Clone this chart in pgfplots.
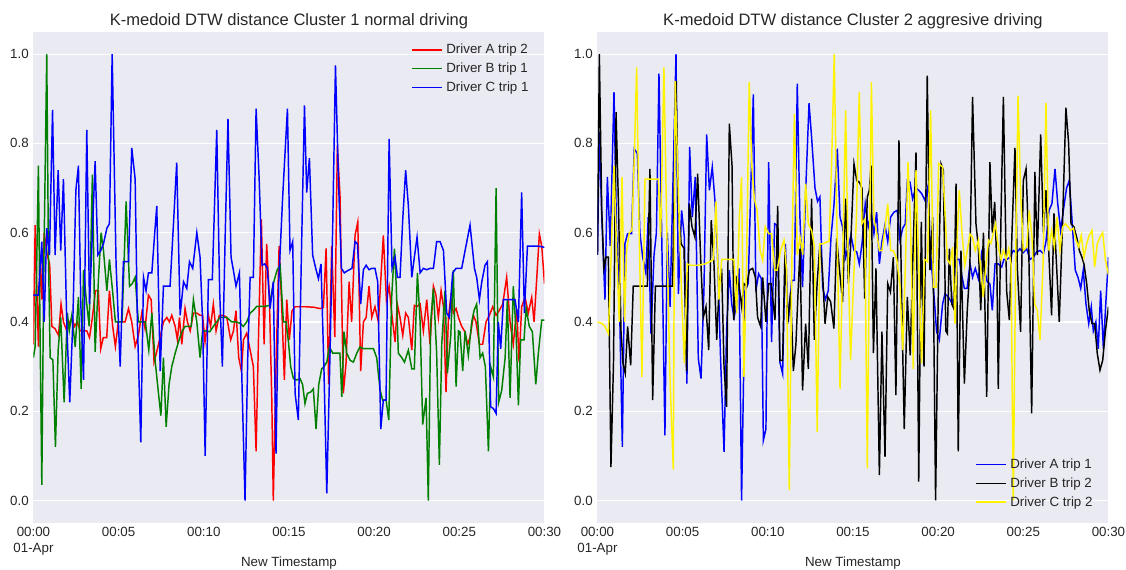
\documentclass[border=0pt]{standalone}
\usepackage{fontspec}
\setmainfont{Liberation Sans}
\usepackage{pgfplots}
\pgfplotsset{compat=1.18}
\definecolor{sbbg}{RGB}{234,234,242}
\definecolor{sbtext}{RGB}{38,38,38}
\definecolor{mplgreen}{RGB}{0,128,0}

% seaborn darkgrid look
\pgfplotsset{
  sbstyle/.style={
    scale only axis, width=383.25pt, height=368.25pt,
    xmin=0, xmax=30, ymin=-0.05, ymax=1.05,
    axis background/.style={fill=sbbg},
    axis line style={draw=none},
    tick style={draw=none},
    ymajorgrids, grid style={white, line width=0.9pt},
    xtick={0,5,10,15,20,25,30},
    xticklabels={{00:00\\01-Apr},00:05,00:10,00:15,00:20,00:25,00:30},
    ytick={0,0.2,0.4,0.6,0.8,1},
    yticklabels={0.0,0.2,0.4,0.6,0.8,1.0},
    ticklabel style={font=\fontsize{10}{11.5}\selectfont, text=sbtext},
    xticklabel style={align=center},
    xlabel={New Timestamp},
    xlabel style={at={(axis description cs:0.5,0)}, anchor=north, yshift=-22pt,
      font=\fontsize{10}{12}\selectfont, text=sbtext},
    title style={font=\fontsize{12.4}{14}\selectfont, text=sbtext,
      at={(axis description cs:0.5,1)}, anchor=south, yshift=-7.5pt},
    legend style={draw=none, fill=none, font=\fontsize{10}{12}\selectfont,
      text=sbtext, row sep=2.3pt, nodes={inner ysep=1.5pt, inner xsep=3pt}},
    legend cell align=left,
    legend image code/.code={\draw[##1, line width=1.1pt] (0pt,0pt) -- (22pt,0pt);},
    every axis plot/.append style={line width=1.1pt, mark=none},
  }
}

\begin{document}
\begin{tikzpicture}
\useasboundingbox (0,0) rectangle (844.5pt,426.75pt);

\begin{axis}[sbstyle, at={(25.1pt,34.65pt)}, anchor=south west,
  title={K-medoid DTW distance Cluster 1 normal driving},
  legend style={at={(0.985,0.985)}, anchor=north east}]
\addplot[red] coordinates {
(0,0.35)(0.1,0.617)(0.29,0.345)(0.4,0.55)(0.5,0.45)(0.63,0.60)(0.8,0.55)(0.95,0.53)
(1.08,0.39)(1.27,0.385)(1.47,0.37)(1.62,0.44)(1.76,0.40)(1.96,0.38)(2.13,0.40)(2.27,0.41)
(2.41,0.39)(2.57,0.40)(2.74,0.38)(2.94,0.38)(3.13,0.38)(3.29,0.365)(3.46,0.41)(3.64,0.47)
(3.81,0.47)(3.95,0.34)(4.1,0.365)(4.3,0.365)(4.46,0.47)(4.65,0.39)(4.81,0.345)(4.98,0.40)
(5.18,0.40)(5.38,0.40)(5.58,0.43)(5.77,0.40)(5.97,0.345)(6.16,0.37)(6.36,0.42)(6.55,0.385)
(6.75,0.46)(6.91,0.45)(7.08,0.31)(7.28,0.34)(7.44,0.366)(7.63,0.40)(7.83,0.41)(7.98,0.40)
(8.12,0.415)(8.32,0.39)(8.45,0.36)(8.57,0.41)(8.71,0.35)(8.9,0.43)(9.04,0.40)(9.2,0.38)
(9.39,0.42)(9.59,0.42)(9.78,0.415)(9.93,0.415)(10.07,0.355)(10.27,0.415)(10.4,0.39)(10.56,0.44)
(10.72,0.38)(10.91,0.415)(11.15,0.415)(11.35,0.41)(11.58,0.36)(11.74,0.38)(11.89,0.425)(12.05,0.32)
(12.21,0.29)(12.33,0.36)(12.52,0.375)(12.72,0.337)(12.91,0.30)(13.07,0.11)(13.22,0.38)(13.38,0.63)
(13.54,0.35)(13.69,0.575)(13.85,0.455)(13.99,0.23)(14.08,0.0)(14.24,0.30)(14.42,0.57)(14.58,0.43)
(14.73,0.27)(14.87,0.45)(15.02,0.36)(15.18,0.425)(15.36,0.434)(15.65,0.434)(16.0,0.434)(16.43,0.433)
(16.83,0.43)(17.02,0.432)(17.18,0.565)(17.33,0.26)(17.51,0.57)(17.69,0.366)(17.84,0.795)(18.0,0.68)
(18.19,0.24)(18.35,0.307)(18.53,0.49)(18.68,0.40)(18.88,0.594)(19.04,0.624)(19.21,0.29)(19.37,0.40)
(19.53,0.41)(19.7,0.48)(19.86,0.41)(20.05,0.434)(20.25,0.40)(20.54,0.594)(20.72,0.45)(20.88,0.48)
(21.03,0.42)(21.23,0.355)(21.36,0.44)(21.52,0.41)(21.68,0.37)(21.85,0.42)(22.01,0.41)(22.21,0.337)
(22.36,0.437)(22.5,0.434)(22.7,0.44)(22.89,0.38)(23.09,0.45)(23.28,0.35)(23.48,0.48)(23.63,0.46)
(23.77,0.41)(23.93,0.47)(24.07,0.434)(24.22,0.243)(24.36,0.41)(24.5,0.455)(24.65,0.42)(24.81,0.43)
(24.95,0.41)(25.14,0.39)(25.3,0.38)(25.49,0.35)(25.63,0.366)(25.83,0.415)(25.98,0.40)(26.18,0.35)
(26.37,0.35)(26.57,0.40)(26.77,0.415)(26.96,0.434)(27.16,0.415)(27.35,0.426)(27.55,0.44)(27.78,0.50)
(27.98,0.40)(28.17,0.35)(28.37,0.43)(28.51,0.31)(28.66,0.434)(28.86,0.455)(29.05,0.42)(29.25,0.455)
(29.39,0.40)(29.55,0.50)(29.7,0.597)(29.84,0.57)(30,0.486)
};
\addlegendentry{Driver A trip 2}
\addplot[mplgreen] coordinates {
(0,0.32)(0.1,0.345)(0.2,0.55)(0.29,0.75)(0.38,0.40)(0.49,0.035)(0.6,0.50)(0.78,1.0)
(0.88,0.55)(0.98,0.32)(1.14,0.315)(1.29,0.12)(1.45,0.337)(1.6,0.41)(1.8,0.22)(1.99,0.42)
(2.1,0.38)(2.25,0.415)(2.45,0.344)(2.64,0.456)(2.8,0.25)(2.94,0.516)(3.1,0.45)(3.27,0.39)
(3.46,0.73)(3.62,0.333)(3.82,0.50)(3.97,0.60)(4.11,0.56)(4.31,0.47)(4.46,0.54)(4.65,0.467)
(4.81,0.40)(5.0,0.40)(5.2,0.40)(5.44,0.67)(5.64,0.48)(5.8,0.486)(5.97,0.50)(6.16,0.40)
(6.36,0.40)(6.57,0.40)(6.77,0.337)(6.95,0.42)(7.14,0.314)(7.32,0.247)(7.48,0.19)(7.63,0.32)
(7.79,0.165)(7.96,0.26)(8.12,0.30)(8.32,0.33)(8.51,0.355)(8.71,0.378)(8.9,0.39)(9.1,0.39)
(9.26,0.39)(9.39,0.45)(9.59,0.40)(9.78,0.32)(9.93,0.38)(10.14,0.38)(10.35,0.378)(10.56,0.39)
(10.76,0.40)(10.95,0.41)(11.15,0.41)(11.35,0.41)(11.64,0.40)(11.9,0.40)(12.13,0.397)(12.32,0.39)
(12.52,0.40)(12.72,0.42)(12.91,0.426)(13.11,0.435)(13.3,0.435)(13.6,0.435)(13.85,0.437)(14.08,0.486)
(14.3,0.516)(14.48,0.527)(14.67,0.40)(14.83,0.40)(14.97,0.355)(15.1,0.30)(15.26,0.273)(15.45,0.27)
(15.65,0.273)(15.8,0.26)(15.94,0.217)(16.08,0.24)(16.28,0.243)(16.43,0.25)(16.59,0.16)(16.75,0.26)
(16.92,0.295)(17.06,0.30)(17.22,0.31)(17.37,0.344)(17.57,0.33)(17.8,0.33)(17.99,0.33)(18.1,0.232)
(18.23,0.378)(18.39,0.33)(18.59,0.314)(18.78,0.31)(18.98,0.33)(19.17,0.344)(19.37,0.34)(19.56,0.34)
(19.76,0.34)(19.96,0.34)(20.15,0.32)(20.35,0.247)(20.5,0.225)(20.7,0.225)(20.86,0.18)(21.03,0.456)
(21.19,0.564)(21.3,0.48)(21.42,0.33)(21.62,0.32)(21.78,0.31)(22.01,0.337)(22.21,0.295)(22.36,0.295)
(22.54,0.51)(22.7,0.40)(22.85,0.17)(23.05,0.23)(23.18,0.0)(23.32,0.40)(23.48,0.475)(23.67,0.33)
(23.83,0.08)(23.97,0.35)(24.16,0.47)(24.3,0.285)(24.5,0.37)(24.65,0.516)(24.81,0.255)(24.95,0.38)
(25.04,0.378)(25.2,0.29)(25.34,0.38)(25.53,0.325)(25.73,0.40)(25.87,0.426)(26.02,0.44)(26.22,0.32)
(26.37,0.33)(26.53,0.30)(26.71,0.11)(26.84,0.30)(27.0,0.277)(27.16,0.70)(27.31,0.22)(27.49,0.247)
(27.69,0.32)(27.82,0.45)(27.98,0.23)(28.17,0.48)(28.33,0.38)(28.47,0.213)(28.6,0.36)(28.8,0.36)
(28.92,0.43)(29.11,0.39)(29.29,0.378)(29.49,0.26)(29.64,0.33)(29.84,0.404)(30,0.404)
};
\addlegendentry{Driver B trip 1}
\addplot[blue] coordinates {
(0,0.46)(0.29,0.46)(0.49,0.58)(0.63,0.40)(0.78,0.61)(0.94,0.55)(1.12,0.875)(1.27,0.55)
(1.45,0.74)(1.6,0.56)(1.76,0.72)(1.96,0.39)(2.13,0.22)(2.31,0.40)(2.49,0.695)(2.64,0.75)
(2.78,0.44)(2.94,0.27)(3.13,0.83)(3.29,0.44)(3.46,0.60)(3.62,0.76)(3.78,0.55)(3.95,0.56)
(4.11,0.575)(4.31,0.61)(4.46,0.62)(4.62,1.0)(4.85,0.53)(5.09,0.30)(5.28,0.535)(5.58,0.535)
(5.77,0.79)(5.97,0.72)(6.1,0.40)(6.30,0.13)(6.46,0.50)(6.61,0.47)(6.75,0.51)(6.95,0.51)
(7.1,0.59)(7.24,0.66)(7.44,0.29)(7.63,0.48)(8.02,0.48)(8.22,0.62)(8.41,0.757)(8.61,0.415)
(8.81,0.49)(9.0,0.475)(9.16,0.535)(9.35,0.52)(9.59,0.60)(9.78,0.545)(9.93,0.40)(10.08,0.10)
(10.27,0.495)(10.5,0.495)(10.76,0.83)(10.93,0.47)(11.09,0.30)(11.26,0.60)(11.42,0.855)(11.6,0.545)
(11.74,0.515)(11.89,0.48)(12.09,0.51)(12.25,0.25)(12.42,0.0)(12.58,0.32)(12.72,0.50)(12.91,0.50)
(13.07,0.878)(13.25,0.72)(13.42,0.527)(13.58,0.53)(13.73,0.52)(13.89,0.43)(14.08,0.49)(14.24,0.105)
(14.4,0.49)(14.63,0.68)(14.91,0.878)(15.06,0.56)(15.22,0.58)(15.36,0.24)(15.55,0.18)(15.74,0.57)
(15.91,0.885)(16.04,0.69)(16.2,0.767)(16.39,0.55)(16.57,0.52)(16.73,0.497)(16.88,0.53)(17.05,0.30)
(17.22,0.016)(17.41,0.33)(17.57,0.62)(17.73,0.975)(17.9,0.725)(18.08,0.52)(18.25,0.51)(18.45,0.515)
(18.7,0.52)(18.88,0.58)(19.02,0.575)(19.21,0.44)(19.37,0.517)(19.53,0.527)(19.7,0.517)(19.86,0.52)
(20.05,0.52)(20.21,0.49)(20.39,0.16)(20.54,0.225)(20.7,0.225)(20.88,0.81)(21.05,0.52)(21.23,0.545)
(21.37,0.50)(21.52,0.50)(21.68,0.63)(21.85,0.74)(22.01,0.66)(22.21,0.50)(22.36,0.545)(22.52,0.59)
(22.7,0.51)(22.89,0.52)(23.09,0.517)(23.28,0.52)(23.48,0.52)(23.67,0.58)(23.87,0.58)(24.07,0.56)
(24.26,0.42)(24.42,0.41)(24.61,0.51)(24.81,0.52)(25.14,0.52)(25.34,0.56)(25.63,0.617)(25.89,0.52)
(26.02,0.50)(26.18,0.45)(26.32,0.49)(26.51,0.527)(26.65,0.535)(26.84,0.21)(27.0,0.206)(27.16,0.195)
(27.29,0.40)(27.43,0.34)(27.59,0.45)(27.98,0.45)(28.27,0.45)(28.47,0.40)(28.66,0.69)(28.82,0.42)
(29.0,0.57)(29.64,0.57)(30,0.567)
};
\addlegendentry{Driver C trip 1}
\end{axis}

\begin{axis}[sbstyle, at={(448.1pt,34.65pt)}, anchor=south west,
  title={K-medoid DTW distance Cluster 2 aggresive driving},
  legend style={at={(0.985,0.02)}, anchor=south east}]
\addplot[blue] coordinates {
(0,0.55)(0.11,0.825)(0.25,0.64)(0.44,0.45)(0.58,0.725)(0.75,0.57)(0.97,0.915)(1.12,0.60)
(1.28,0.47)(1.46,0.12)(1.61,0.575)(1.77,0.598)(2.0,0.598)(2.16,0.788)(2.34,0.777)(2.49,0.60)
(2.65,0.546)(2.84,0.51)(2.98,0.635)(3.14,0.374)(3.32,0.55)(3.46,0.60)(3.61,0.956)(3.8,0.53)
(3.96,0.146)(4.1,0.60)(4.26,0.434)(4.45,0.74)(4.61,1.0)(4.75,0.463)(4.94,0.65)(5.1,0.59)
(5.25,0.262)(5.41,0.792)(5.57,0.635)(5.74,0.725)(5.92,0.318)(6.08,0.273)(6.25,0.47)(6.41,0.82)
(6.57,0.695)(6.74,0.747)(6.9,0.67)(7.05,0.55)(7.23,0.314)(7.43,0.109)(7.58,0.38)(7.74,0.516)
(7.88,0.44)(8.02,0.41)(8.17,0.44)(8.31,0.52)(8.46,0.0)(8.66,0.47)(8.85,0.486)(9.15,0.91)
(9.3,0.47)(9.46,0.508)(9.62,0.497)(9.74,0.135)(9.89,0.16)(10.05,0.758)(10.22,0.355)(10.4,0.62)
(10.55,0.617)(10.71,0.31)(10.87,0.284)(11.03,0.575)(11.2,0.40)(11.4,0.493)(11.56,0.493)(11.73,0.934)
(11.88,0.64)(12.04,0.478)(12.24,0.71)(12.42,0.89)(12.57,0.814)(12.77,0.70)(12.92,0.67)(13.06,0.68)
(13.22,0.478)(13.38,0.45)(13.55,0.47)(13.71,0.59)(13.88,0.66)(14.08,0.788)(14.24,0.635)(14.39,0.613)
(14.57,0.545)(14.72,0.568)(14.88,0.594)(15.06,0.56)(15.22,0.557)(15.37,0.53)(15.53,0.575)(15.72,0.665)
(15.9,0.613)(16.08,0.643)(16.23,0.598)(16.39,0.646)(16.55,0.53)(16.7,0.58)(16.88,0.617)(17.04,0.58)
(17.21,0.635)(17.41,0.646)(17.6,0.65)(17.76,0.583)(17.92,0.61)(18.07,0.62)(18.19,0.717)(18.35,0.713)
(18.5,0.676)(18.68,0.70)(18.86,0.695)(19.04,0.687)(19.23,0.672)(19.38,0.70)(19.56,0.55)(19.72,0.478)
(19.91,0.378)(20.07,0.36)(20.26,0.44)(20.4,0.463)(20.6,0.456)(20.85,0.44)(21.05,0.54)(21.24,0.54)
(21.38,0.505)(21.54,0.475)(21.7,0.475)(21.87,0.53)(22.02,0.50)(22.18,0.52)(22.36,0.497)(22.55,0.553)
(22.71,0.52)(22.88,0.49)(23.04,0.485)(23.18,0.426)(23.34,0.53)(23.53,0.53)(23.73,0.523)(23.86,0.54)
(24.02,0.54)(24.22,0.545)(24.41,0.56)(24.6,0.555)(24.8,0.564)(24.99,0.555)(25.2,0.564)(25.39,0.54)
(25.59,0.545)(25.78,0.557)(25.98,0.56)(26.18,0.553)(26.33,0.58)(26.51,0.65)(26.68,0.665)(26.86,0.743)
(27.02,0.665)(27.19,0.605)(27.35,0.65)(27.54,0.70)(27.7,0.717)(27.86,0.628)(28.05,0.516)(28.21,0.50)
(28.37,0.475)(28.52,0.516)(28.68,0.44)(28.84,0.396)(28.99,0.434)(29.11,0.38)(29.26,0.40)(29.4,0.34)
(29.54,0.47)(29.7,0.34)(29.84,0.44)(30,0.545)
};
\addlegendentry{Driver A trip 1}
\addplot[black] coordinates {
(0,0.55)(0.11,1.0)(0.25,0.65)(0.38,0.52)(0.5,0.545)(0.64,0.545)(0.79,0.075)(0.94,0.307)
(1.09,0.87)(1.24,0.65)(1.38,0.38)(1.5,0.307)(1.63,0.285)(1.77,0.39)(1.95,0.303)(2.1,0.48)
(2.5,0.48)(2.93,0.48)(3.08,0.743)(3.24,0.225)(3.4,0.48)(3.57,0.48)(4.06,0.48)(4.41,0.48)
(4.61,0.94)(4.75,0.65)(4.91,0.575)(5.08,0.565)(5.23,0.29)(5.39,0.665)(5.55,0.613)(5.72,0.59)
(5.88,0.732)(6.05,0.55)(6.21,0.41)(6.37,0.434)(6.53,0.337)(6.68,0.628)(6.84,0.53)(7.0,0.36)
(7.15,0.486)(7.29,0.52)(7.43,0.30)(7.58,0.21)(7.74,0.844)(7.9,0.75)(8.0,0.404)(8.16,0.50)
(8.27,0.494)(8.47,0.434)(8.6,0.486)(8.76,0.48)(8.92,0.516)(9.11,0.52)(9.27,0.50)(9.4,0.41)
(9.58,0.39)(9.7,0.50)(9.89,0.40)(10.05,0.486)(10.2,0.486)(10.42,0.404)(10.58,0.66)(10.71,0.314)
(10.87,0.314)(11.01,0.56)(11.16,0.396)(11.34,0.467)(11.5,0.29)(11.65,0.35)(11.78,0.47)(11.89,0.564)
(12.04,0.247)(12.22,0.396)(12.38,0.295)(12.57,0.676)(12.73,0.36)(12.9,0.49)(13.06,0.575)(13.2,0.52)
(13.36,0.396)(13.52,0.456)(13.69,0.445)(13.88,0.385)(14.04,0.587)(14.2,0.52)(14.39,0.445)(14.57,0.676)
(14.73,0.486)(14.86,0.568)(15.06,0.754)(15.22,0.717)(15.37,0.713)(15.53,0.70)(15.69,0.452)(15.84,0.68)
(15.96,0.695)(16.06,0.75)(16.2,0.33)(16.35,0.52)(16.55,0.057)(16.7,0.378)(16.88,0.098)(17.04,0.486)
(17.2,0.467)(17.37,0.545)(17.52,0.236)(17.7,0.807)(17.86,0.45)(18.01,0.16)(18.19,0.456)(18.36,0.325)
(18.52,0.55)(18.7,0.78)(18.86,0.042)(19.01,0.624)(19.17,0.30)(19.36,0.952)(19.52,0.516)(19.68,0.635)
(19.85,0.0)(20.01,0.47)(20.17,0.754)(20.3,0.74)(20.45,0.38)(20.54,0.374)(20.66,0.564)(20.8,0.44)
(20.92,0.43)(21.05,0.71)(21.18,0.11)(21.34,0.56)(21.54,0.262)(21.71,0.426)(21.86,0.52)(22.02,0.904)
(22.22,0.62)(22.36,0.568)(22.5,0.426)(22.66,0.60)(22.85,0.232)(23.04,0.758)(23.18,0.60)(23.32,0.669)
(23.45,0.52)(23.53,0.25)(23.69,0.635)(23.83,0.904)(24.02,0.47)(24.18,0.404)(24.34,0.605)(24.51,0.79)
(24.65,0.52)(24.84,0.378)(25.0,0.717)(25.16,0.743)(25.31,0.583)(25.49,0.195)(25.68,0.736)(25.82,0.55)
(26.02,0.82)(26.18,0.60)(26.33,0.695)(26.49,0.56)(26.66,0.415)(26.8,0.643)(26.96,0.52)(27.11,0.40)
(27.31,0.63)(27.5,0.88)(27.66,0.80)(27.8,0.62)(27.97,0.613)(28.13,0.59)(28.29,0.56)(28.44,0.545)
(28.56,0.53)(28.72,0.486)(28.87,0.426)(29.03,0.396)(29.19,0.396)(29.34,0.33)(29.5,0.292)(29.66,0.314)
(29.82,0.38)(30,0.434)
};
\addlegendentry{Driver B trip 2}
\addplot[yellow] coordinates {
(0,0.40)(0.25,0.397)(0.44,0.39)(0.64,0.374)(0.8,0.55)(0.97,0.75)(1.13,0.55)(1.28,0.40)
(1.44,0.725)(1.59,0.40)(1.71,0.56)(1.87,0.60)(2.02,0.605)(2.17,0.78)(2.3,0.97)(2.45,0.60)
(2.61,0.277)(2.79,0.72)(3.18,0.72)(3.57,0.72)(3.71,0.59)(3.9,0.97)(4.1,0.545)(4.26,0.27)
(4.45,0.07)(4.56,0.94)(4.78,0.65)(4.95,0.45)(5.1,0.307)(5.27,0.53)(5.43,0.527)(5.9,0.527)
(6.31,0.53)(6.6,0.535)(6.8,0.54)(6.96,0.67)(7.13,0.45)(7.29,0.54)(7.6,0.54)(8.01,0.54)
(8.17,0.42)(8.33,0.635)(8.46,0.725)(8.6,0.277)(8.75,0.53)(8.91,0.937)(9.06,0.75)(9.21,0.676)
(9.37,0.65)(9.55,0.56)(9.7,0.538)(9.85,0.613)(10.05,0.598)(10.22,0.598)(10.4,0.516)(10.55,0.516)
(10.75,0.56)(10.95,0.583)(11.1,0.516)(11.26,0.023)(11.41,0.53)(11.56,0.866)(11.73,0.55)(11.89,0.59)
(12.05,0.55)(12.22,0.71)(12.38,0.62)(12.57,0.605)(12.73,0.57)(12.9,0.154)(13.06,0.575)(13.25,0.575)
(13.45,0.579)(13.6,0.58)(13.75,0.76)(13.9,1.0)(14.05,0.63)(14.24,0.25)(14.4,0.55)(14.57,0.874)
(14.72,0.53)(14.86,0.314)(15.02,0.48)(15.2,0.63)(15.37,0.915)(15.53,0.62)(15.69,0.63)(15.84,0.072)
(15.96,0.53)(16.08,0.937)(16.23,0.63)(16.39,0.60)(16.55,0.56)(16.7,0.56)(16.88,0.61)(17.04,0.665)
(17.21,0.56)(17.37,0.56)(17.57,0.54)(17.76,0.48)(17.92,0.337)(18.08,0.53)(18.23,0.758)(18.38,0.62)
(18.54,0.295)(18.7,0.74)(18.86,0.53)(19.03,0.307)(19.2,0.54)(19.38,0.535)(19.56,0.874)(19.72,0.478)
(19.88,0.478)(20.03,0.755)(20.26,0.747)(20.4,0.65)(20.54,0.54)(20.7,0.53)(20.85,0.568)(20.99,0.396)
(21.13,0.60)(21.24,0.695)(21.4,0.60)(21.56,0.527)(21.71,0.56)(21.87,0.597)(22.02,0.59)(22.18,0.56)
(22.36,0.583)(22.5,0.52)(22.65,0.456)(22.81,0.53)(22.96,0.583)(23.1,0.576)(23.23,0.597)(23.37,0.62)
(23.53,0.568)(23.69,0.54)(23.83,0.56)(23.99,0.54)(24.14,0.564)(24.28,0.53)(24.41,0.0)(24.55,0.53)
(24.69,0.907)(24.85,0.68)(25.0,0.56)(25.2,0.568)(25.35,0.65)(25.51,0.59)(25.67,0.44)(25.82,0.426)
(25.98,0.36)(26.16,0.53)(26.33,0.89)(26.49,0.56)(26.66,0.605)(26.82,0.568)(26.98,0.635)(27.15,0.56)
(27.31,0.613)(27.47,0.62)(27.63,0.613)(27.78,0.605)(27.94,0.61)(28.09,0.583)(28.25,0.568)(28.4,0.594)
(28.56,0.545)(28.72,0.575)(28.87,0.594)(29.03,0.605)(29.19,0.523)(29.34,0.575)(29.5,0.59)(29.66,0.60)
(29.82,0.54)(30,0.505)
};
\addlegendentry{Driver C trip 2}
\end{axis}
\end{tikzpicture}
\end{document}
